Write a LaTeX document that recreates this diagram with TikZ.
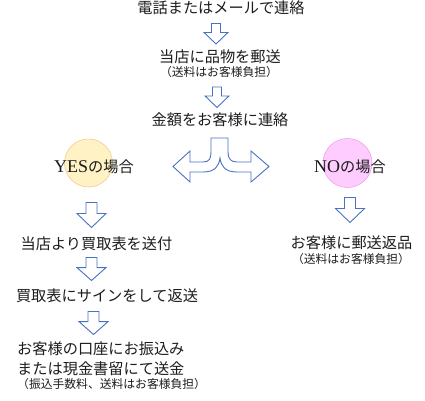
\documentclass[tikz,border=0pt]{standalone}
\usepackage{fontspec}
\setmainfont{Liberation Serif}
\newfontfamily\cjk{Noto Sans CJK JP}
\definecolor{arrowblue}{HTML}{4A72C2}
\definecolor{yesfill}{HTML}{FFF2C4}
\definecolor{yesdraw}{HTML}{F8C98C}
\definecolor{nofill}{HTML}{FFCCFF}
\definecolor{nodraw}{HTML}{F2A0EA}
\definecolor{ink}{HTML}{1C1C1C}
\begin{document}
\begin{tikzpicture}[x=1pt,y=-1pt,
  txt/.style={font=\cjk\fontsize{15.2}{18}\selectfont, inner sep=0pt, text=ink},
  small/.style={font=\cjk\fontsize{11.8}{13}\selectfont, inner sep=0pt, text=ink},
  arr/.style={draw=arrowblue, fill=white, line width=0.9pt, line join=miter},
  blockdown/.pic={\path[arr] (-5.5,0) -- (5.5,0) -- (5.5,11) -- (14.5,11) -- (0,25) -- (-14.5,11) -- (-5.5,11) -- cycle;}
]
\useasboundingbox (0,0) rectangle (425,400);

% top chain
\node[txt] (t1) at (221,8) {電話またはメールで連絡};
\pic[scale=0.82] at (216,23.5) {blockdown};
\node[txt] (t2) at (220,56.5) {当店に品物を郵送};
\node[small] (t2s) at (219,72.5) {（送料はお客様負担）};
\pic[scale=0.82] at (217,87) {blockdown};
\node[txt] (t3) at (220,120) {金額をお客様に連絡};

% split arrow
\path[arr] (211,138) -- (228,138) -- (228,152)
  .. controls (228,159) and (231,162) .. (237,162) -- (251,162) -- (251,151)
  -- (269,166.5) -- (251,182) -- (251,172) -- (237,172)
  .. controls (225,172) and (221,166) .. (220,158)
  .. controls (219,166) and (215,172) .. (203,172) -- (190,172) -- (190,182)
  -- (173,166.5) -- (190,151) -- (190,162) -- (203,162)
  .. controls (209,162) and (211,159) .. (211,152) -- cycle;

% circles
\node[circle, minimum size=48pt, inner sep=0pt, fill=yesfill, draw=yesdraw, line width=0.6pt] (yc) at (88.5,163) {};
\node[circle, minimum size=49pt, inner sep=0pt, fill=nofill, draw=nodraw, line width=0.6pt] (nc) at (347.5,163) {};
\node[txt] (yes) at (94,167) {\fontsize{18}{20}\rmfamily YES\cjk\fontsize{15.2}{18}\selectfont の場合};
\node[txt] (no) at (350,167) {\fontsize{18}{20}\rmfamily NO\cjk\fontsize{15.2}{18}\selectfont の場合};

% YES chain
\pic at (91.5,202.5) {blockdown};
\node[txt] (y1) at (96.5,244) {当店より買取表を送付};
\pic[yscale=0.92] at (91.5,257.5) {blockdown};
\node[txt] (y2) at (107,296) {買取表にサインをして返送};
\pic[yscale=0.92] at (93.5,311.5) {blockdown};
\node[txt, anchor=west] (y3) at (17,348.5) {お客様の口座にお振込み};
\node[txt, anchor=west] (y4) at (17,368.5) {または現金書留にて送金};
\node[small, anchor=west] (y5) at (17,384) {（振込手数料、送料はお客様負担）};

% NO chain
\pic at (350,197.5) {blockdown};
\node[txt] (n1) at (351.5,243) {お客様に郵送返品};
\node[small] (n1s) at (351,259.5) {（送料はお客様負担）};
\end{tikzpicture}
\end{document}
